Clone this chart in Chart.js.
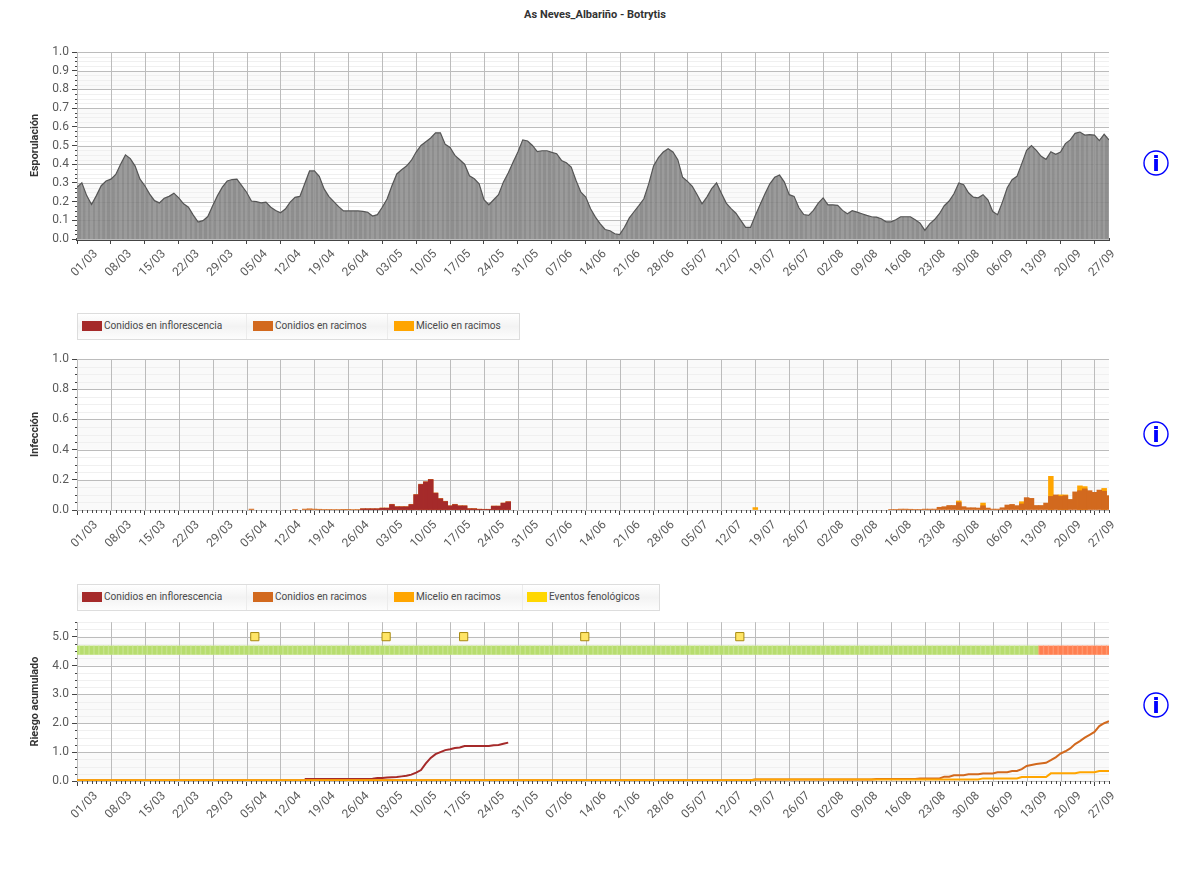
<!DOCTYPE html>
<html lang="es">
<head>
<meta charset="utf-8">
<title>As Neves_Albariño - Botrytis</title>
<script src="https://cdn.jsdelivr.net/npm/chart.js@4"></script>
<style>
  html, body { margin: 0; padding: 0; background: #fff; overflow: hidden; }
  body { width: 1182px; height: 894px; position: relative; font-family: Roboto, sans-serif; }
  canvas { position: absolute; left: 0; }
  #title { position: absolute; top: 8px; left: 0; width: 1190px; text-align: center; font: bold 11px Roboto, sans-serif; color: #333; }
  .legend { position: absolute; left: 77px; height: 25px; border: 1px solid #ddd;
            background: linear-gradient(#fff, #f3f3f3 50%, #fdfdfd); }
  .legend i { position: absolute; top: 7px; width: 20px; height: 10px; }
  .legend span { position: absolute; top: 5px; font-size: 10.1px; line-height: 14px; color: #4a4a4a; white-space: nowrap; }
  .legend b { position: absolute; top: 0; bottom: 0; width: 1px; background: #ececec; }
  svg { position: absolute; left: 1142px; width: 28px; height: 28px; }
</style>
</head>
<body>
<div id="title">As Neves_Albariño - Botrytis</div>
<canvas id="sporulation" width="1182" height="270" style="top:30px"></canvas>
<canvas id="infection" width="1182" height="205" style="top:345px"></canvas>
<canvas id="risk" width="1182" height="220" style="top:612px"></canvas>
<script>
// Week tick labels along the season; day 0 is 01/03 and the axis ends on day 213.
const weekLabels = ['01/03','08/03','15/03','22/03','29/03','05/04','12/04','19/04','26/04','03/05','10/05',
  '17/05','24/05','31/05','07/06','14/06','21/06','28/06','05/07','12/07','19/07','26/07','02/08','09/08',
  '16/08','23/08','30/08','06/09','13/09','20/09','27/09'];
const lastDay = 213;

// Daily sporulation index.
const sporulation = [
  .277,.30,.232,.184,.232,.285,.31,.32,.345,.40,
  .45,.43,.39,.32,.285,.24,.205,.193,.218,.228,
  .245,.22,.188,.17,.128,.09,.098,.12,.178,.232,
  .277,.31,.318,.32,.285,.25,.203,.20,.193,.197,
  .17,.152,.14,.16,.197,.223,.228,.295,.364,.364,
  .335,.268,.227,.20,.173,.15,.15,.15,.15,.148,
  .143,.123,.13,.17,.214,.285,.348,.37,.39,.42,
  .465,.50,.52,.54,.568,.568,.506,.49,.447,.424,
  .40,.338,.322,.295,.21,.183,.21,.237,.304,.353,
  .41,.465,.53,.524,.50,.467,.472,.472,.463,.456,
  .42,.408,.385,.313,.25,.224,.162,.117,.081,.051,
  .044,.028,.024,.063,.113,.147,.18,.215,.295,.39,
  .435,.465,.483,.465,.424,.33,.308,.281,.237,.188,
  .224,.269,.30,.245,.192,.162,.138,.10,.062,.062,
  .126,.185,.242,.295,.33,.342,.304,.237,.228,.167,
  .131,.126,.153,.192,.22,.183,.183,.18,.153,.135,
  .151,.144,.135,.126,.119,.117,.108,.092,.092,.103,
  .119,.119,.119,.103,.085,.046,.081,.104,.135,.178,
  .203,.242,.30,.29,.247,.224,.22,.237,.21,.147,
  .13,.197,.274,.317,.335,.403,.474,.50,.474,.442,
  .426,.467,.453,.465,.51,.53,.565,.572,.556,.558,
  .556,.526,.56,.53];

// Daily infection values, listed only for the days that have any.
const inflorDays = [59,60,61,62,63,64,65,66,67,68,69,70,71,72,73,74,75,76,77,78,79,80,81,82,83,84,85,86,87,88,89];
const inflorInfection = [.007,.007,.007,.007,.011,.011,.035,.02,.02,.02,.035,.10,.168,.185,.20,.11,.073,.055,.026,.035,.026,.026,.007,.007,.004,.003,.003,.024,.024,.044,.053];
const racimoDays = [36,45,47,48,49,50,51,52,53,54,55,56,57,58,59,60,61,62,63,64,65,66,67,68,69,70,71,72,73,74,75,76,77,78,79,80,81,82,83,84,85,86,87,88,89,
  168,169,170,171,172,173,174,175,176,177,178,179,180,181,182,183,184,185,186,187,188,189,190,191,192,193,194,195,196,197,198,199,200,201,202,203,204,205,206,207,208,209,210,211,212,213];
const racimoInfection = [.006,.004,.006,.008,.006,.005,.004,.004,.003,.003,.002,.002,.003,.004,.009,.009,.009,.009,.014,.014,.038,.023,.023,.023,.038,.103,.171,.188,.203,.114,.077,.058,.029,.038,.029,.029,.01,.01,.006,.005,.005,.027,.027,.047,.056,
  .004,.004,.006,.006,.005,.004,.004,.006,.006,.006,.018,.022,.03,.03,.05,.022,.015,.015,.013,.028,.013,.006,.006,.015,.033,.037,.029,.04,.082,.077,.03,.03,.046,.09,.10,.09,.095,.07,.12,.128,.14,.128,.117,.132,.124,.095];
const micelioDays = [140,182,187,195,201,203,204,207,208,212];
const micelioInfection = [.016,.06,.046,.055,.223,.10,.10,.16,.155,.143];

// Accumulated risk: each list holds the days where the running total is known.
const inflorRiskDays = [47,60,61,62,63,64,65,66,67,68,69,70,71,72,73,74,75,76,77,78,79,80,85,86,87,88,89];
const inflorRisk = [.07,.07,.08,.10,.10,.12,.13,.14,.16,.18,.22,.29,.38,.61,.80,.93,1.0,1.07,1.10,1.14,1.16,1.21,1.21,1.24,1.25,1.29,1.33];
const racimoRiskDays = [0,139,140,164,165,173,174,178,179,180,181,183,184,186,187,189,190,192,193,194,195,196,198,200,201,202,203,204,205,206,207,208,209,210,211,212,213];
const racimoRisk = [.03,.03,.05,.05,.07,.07,.09,.09,.15,.15,.20,.20,.23,.23,.26,.26,.30,.30,.345,.345,.41,.52,.59,.63,.72,.82,.95,1.03,1.13,1.28,1.38,1.5,1.6,1.7,1.9,2.0,2.07];
const micelioRiskDays = [0,139,140,186,187,194,195,200,201,206,207,210,211,213];
const micelioRisk = [.03,.03,.05,.05,.09,.09,.14,.14,.265,.265,.30,.30,.345,.345];

// Phenological events and the day the daily risk status turns from low to high.
const eventDays = [36.7,63.8,79.8,104.8,136.8];
const eventLevel = [5,5,5,5,5];
const statusChangeDay = 199;
const statusLow = 4.38, statusHigh = 4.68;

const brown = '#a52a2a', orange = '#d2691e', amber = '#ffa500', gold = '#ffd700';
const legendNames = ['Conidios en inflorescencia','Conidios en racimos','Micelio en racimos','Eventos fenológicos'];
const legendColors = [brown, orange, amber, gold];

const plotLeft = 77, plotRight = 1109;
const dayWidth = (plotRight - plotLeft) / lastDay;
const points = (xs, ys) => xs.map((x, i) => ({ x, y: ys[i] }));

// Draws the alternating background bands, light sub-gridlines and the small axis ticks.
const fineAxis = {
  id: 'fineAxis',
  beforeDatasetsDraw(chart, args, o) {
    const { ctx, chartArea: a, scales: { x, y } } = chart;
    ctx.save();
    for (let k = 0; k * o.major < y.max; k += 2) {
      const top = y.getPixelForValue(Math.min(y.max, (k + 1) * o.major));
      const bottom = y.getPixelForValue(k * o.major);
      ctx.fillStyle = '#fafafa';
      ctx.fillRect(a.left, top, a.width, bottom - top);
    }
    ctx.strokeStyle = '#f0f0f0';
    ctx.lineWidth = 1;
    for (let v = o.minor; v < y.max + 1e-9; v += o.minor) {
      const r = v / o.major;
      if (Math.abs(r - Math.round(r)) < 1e-6) continue;
      const p = Math.round(y.getPixelForValue(v)) + .5;
      ctx.beginPath(); ctx.moveTo(a.left, p); ctx.lineTo(a.right, p); ctx.stroke();
    }
    // Redraw the main gridlines over the bands and light lines.
    ctx.strokeStyle = '#bcbcbc';
    y.ticks.forEach(t => {
      const p = Math.round(y.getPixelForValue(t.value)) + .5;
      ctx.beginPath(); ctx.moveTo(a.left, p); ctx.lineTo(a.right, p); ctx.stroke();
    });
    x.ticks.forEach(t => {
      const p = Math.round(x.getPixelForValue(t.value)) + .5;
      ctx.beginPath(); ctx.moveTo(p, a.top); ctx.lineTo(p, a.bottom); ctx.stroke();
    });
    ctx.restore();
  },
  afterDraw(chart, args, o) {
    const { ctx, chartArea: a, scales: { x, y } } = chart;
    ctx.save();
    ctx.strokeStyle = '#444';
    ctx.lineWidth = 1;
    for (let v = o.minor; v < y.max + 1e-9; v += o.minor) {
      const r = v / o.major;
      if (Math.abs(r - Math.round(r)) < 1e-6) continue;
      const p = Math.round(y.getPixelForValue(v)) + .5;
      ctx.beginPath(); ctx.moveTo(a.left - 2, p); ctx.lineTo(a.left, p); ctx.stroke();
    }
    if (o.dayTicks) {
      for (let d = 1; d <= lastDay; d++) {
        if (d % 7 === 0) continue;
        const p = Math.round(x.getPixelForValue(d)) + .5;
        ctx.beginPath(); ctx.moveTo(p, a.bottom); ctx.lineTo(p, a.bottom + 3); ctx.stroke();
      }
    }
    ctx.restore();
  }
};

function makeOptions(canvasTop, canvasHeight, plotTop, plotBottom, yMax, major, minor, yTitle, dayTicks, axisWidth) {
  return {
    responsive: false,
    animation: false,
    devicePixelRatio: 1,
    events: [],
    layout: { autoPadding: false, padding: { top: plotTop - canvasTop, left: 0, right: 1182 - plotRight, bottom: 0 } },
    plugins: {
      legend: { display: false },
      tooltip: { enabled: false },
      fineAxis: { major, minor, dayTicks }
    },
    scales: {
      x: {
        type: 'linear', min: 0, max: lastDay, offset: false,
        afterFit: s => { s.height = canvasTop + canvasHeight - plotBottom; },
        grid: { drawOnChartArea: false, tickColor: '#444', tickLength: 5, offset: false },
        border: { color: '#444', width: axisWidth },
        ticks: {
          stepSize: 7, includeBounds: false, autoSkip: false, minRotation: 45, maxRotation: 45,
          labelOffset: 19, padding: 3, color: '#5a5a5a', font: { family: 'Roboto', size: 12 },
          callback: v => weekLabels[v / 7]
        }
      },
      y: {
        min: 0, max: yMax,
        afterFit: s => { s.width = plotLeft; },
        grid: { drawOnChartArea: false, tickColor: '#444', tickLength: 5 },
        border: { color: '#444' },
        title: { display: true, text: yTitle, color: '#333', padding: { top: 29, bottom: 0 }, font: { family: 'Roboto', size: 10.8, weight: 'bold' } },
        ticks: {
          stepSize: major, includeBounds: false, autoSkip: false, padding: 3, color: '#5a5a5a',
          font: { family: 'Roboto', size: 12 }, callback: v => v.toFixed(1)
        }
      }
    }
  };
}

// Vertical day stripes for the sporulation area.
function dayStripes() {
  const c = document.createElement('canvas');
  c.width = 20; c.height = 1;
  const g = c.getContext('2d');
  g.fillStyle = 'rgba(130,130,130,.9)'; g.fillRect(10, 0, 10, 1);
  g.fillStyle = 'rgba(144,144,144,.9)'; g.fillRect(0, 0, 10, 1);
  const pattern = g.createPattern(c, 'repeat');
  pattern.setTransform(new DOMMatrix().translate(plotLeft - dayWidth / 4, 0).scale(dayWidth / 20, 1));
  return pattern;
}

new Chart(document.getElementById('sporulation'), {
  type: 'line',
  plugins: [fineAxis],
  data: { datasets: [{
    data: sporulation.map((y, x) => ({ x, y })),
    borderColor: '#555', borderWidth: 1.2, pointRadius: 0, tension: 0,
    fill: 'origin', backgroundColor: dayStripes()
  }] },
  options: makeOptions(30, 270, 52, 239, 1, .1, .025, 'Esporulación', false, 3)
});

const barStyle = { barPercentage: 1, categoryPercentage: 1, grouped: false, borderWidth: 0 };
new Chart(document.getElementById('infection'), {
  type: 'bar',
  plugins: [fineAxis],
  data: { datasets: [
    { ...barStyle, label: legendNames[0], data: points(inflorDays, inflorInfection), backgroundColor: brown },
    { ...barStyle, label: legendNames[1], data: points(racimoDays, racimoInfection), backgroundColor: orange },
    { ...barStyle, label: legendNames[2], data: points(micelioDays, micelioInfection), backgroundColor: amber }
  ] },
  options: makeOptions(345, 205, 359, 510, 1, .2, .05, 'Infección', true, 1)
});

// Daily status band: a light full-width cell with a stronger narrower one inside it.
const statusCells = [];
for (let d = 0; d <= lastDay; d++) statusCells.push({ x: d, y: [statusLow, statusHigh] });
const cellColor = (low, high) => c => (c.raw.x < statusChangeDay ? low : high);
const lineStyle = { type: 'line', pointRadius: 0, borderWidth: 2, tension: 0 };
new Chart(document.getElementById('risk'), {
  type: 'bar',
  plugins: [fineAxis],
  data: { datasets: [
    { type: 'line', label: legendNames[3], data: points(eventDays, eventLevel), showLine: false, pointStyle: 'rect',
      pointRadius: 5.8, pointBackgroundColor: '#ffe566', pointBorderColor: '#a88a10', pointBorderWidth: 1 },
    { ...lineStyle, label: legendNames[2], data: points(micelioRiskDays, micelioRisk), borderColor: amber },
    { ...lineStyle, label: legendNames[1], data: points(racimoRiskDays, racimoRisk), borderColor: orange },
    { ...lineStyle, label: legendNames[0], data: points(inflorRiskDays, inflorRisk), borderColor: brown },
    { data: statusCells, grouped: false, categoryPercentage: 1, barPercentage: .7, borderWidth: 0, backgroundColor: cellColor('#b7dd6e', '#ff7f50') },
    { data: statusCells, grouped: false, categoryPercentage: 1, barPercentage: 1, borderWidth: 0, backgroundColor: cellColor('#c6e38c', '#ff956c') }
  ] },
  options: makeOptions(612, 220, 622, 781, 5.5, 1, .25, 'Riesgo acumulado', true, 1)
});

// Legend strips above the infection and risk panels.
const legendSlots = [
  { swatch: 4, text: 26, rule: 168 },
  { swatch: 175, text: 197, rule: 309 },
  { swatch: 316, text: 338, rule: 444 },
  { swatch: 449, text: 471, rule: null }
];
function addLegend(top, width, count) {
  const box = document.createElement('div');
  box.className = 'legend';
  box.style.top = top + 'px';
  box.style.width = width + 'px';
  for (let i = 0; i < count; i++) {
    const s = legendSlots[i];
    const swatch = document.createElement('i');
    swatch.style.left = s.swatch + 'px';
    swatch.style.background = legendColors[i];
    const label = document.createElement('span');
    label.style.left = s.text + 'px';
    label.textContent = legendNames[i];
    box.append(swatch, label);
    if (i < count - 1) {
      const rule = document.createElement('b');
      rule.style.left = s.rule + 'px';
      box.append(rule);
    }
  }
  document.body.append(box);
}
addLegend(313, 441, 3);
addLegend(584, 581, 4);

// Information buttons to the right of each panel.
[149, 420, 691].forEach(top => {
  const ns = 'http://www.w3.org/2000/svg';
  const svg = document.createElementNS(ns, 'svg');
  svg.setAttribute('viewBox', '0 0 28 28');
  svg.style.top = top + 'px';
  const ring = document.createElementNS(ns, 'circle');
  ring.setAttribute('cx', 14); ring.setAttribute('cy', 14); ring.setAttribute('r', 12);
  ring.setAttribute('fill', '#fff'); ring.setAttribute('stroke', '#0000ff'); ring.setAttribute('stroke-width', 1.4);
  const text = document.createElementNS(ns, 'text');
  text.setAttribute('x', 14); text.setAttribute('y', 22); text.setAttribute('text-anchor', 'middle');
  text.setAttribute('fill', '#0000ff');
  text.setAttribute('style', 'font: bold 22px "DejaVu Sans", sans-serif');
  text.textContent = 'i';
  svg.append(ring, text);
  document.body.append(svg);
});
</script>
</body>
</html>
